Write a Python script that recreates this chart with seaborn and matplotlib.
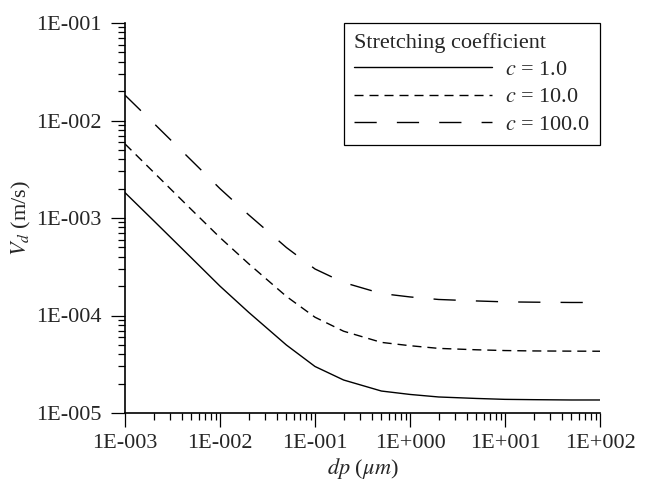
import numpy as np
import pandas as pd
import matplotlib
matplotlib.use("Agg")
import matplotlib.pyplot as plt
from matplotlib.ticker import FuncFormatter, LogLocator, NullFormatter
from matplotlib.lines import Line2D
import seaborn as sns

# ---- data ----
dp = [0.001, 0.002, 0.005, 0.01, 0.02, 0.05, 0.1, 0.2, 0.5, 1, 2, 5, 10, 20, 50, 100]
vd_c1 = [1.82e-3, 9.4e-4, 3.9e-4, 2.0e-4, 1.08e-4, 4.98e-5, 3.0e-5, 2.18e-5, 1.68e-5,
         1.55e-5, 1.46e-5, 1.41e-5, 1.38e-5, 1.37e-5, 1.36e-5, 1.36e-5]
vd_c10 = [5.75e-3, 2.95e-3, 1.22e-3, 6.3e-4, 3.4e-4, 1.57e-4, 9.6e-5, 6.9e-5, 5.3e-5,
          4.9e-5, 4.6e-5, 4.45e-5, 4.37e-5, 4.33e-5, 4.31e-5, 4.3e-5]
vd_c100 = [1.82e-2, 9.4e-3, 3.9e-3, 2.0e-3, 1.08e-3, 4.98e-4, 3.0e-4, 2.18e-4, 1.68e-4,
           1.55e-4, 1.46e-4, 1.41e-4, 1.38e-4, 1.37e-4, 1.36e-4, 1.36e-4]
series_labels = [r"$c$ = 1.0", r"$c$ = 10.0", r"$c$ = 100.0"]
legend_title = "Stretching coefficient"
xlabel = r"$dp$ ($\mu m$)"
ylabel = r"$V_d$ (m/s)"

df = pd.concat([
    pd.DataFrame({"dp": dp, "Vd": v, "c": lab})
    for v, lab in zip([vd_c1, vd_c10, vd_c100], series_labels)
])

sns.set_style("ticks")
plt.rcParams["font.family"] = ["Liberation Serif", "DejaVu Serif"]
plt.rcParams["mathtext.fontset"] = "stix"
plt.rcParams["font.size"] = 16

FS = 16
SHORT = (6.5, 4.3)
LONG = (16, 14.5)

fig = plt.figure(figsize=(6.49, 4.82), dpi=100)
ax = fig.add_axes([125 / 649, 1 - 413 / 482, 475 / 649, 390 / 482])

dash_map = {series_labels[0]: "", series_labels[1]: SHORT, series_labels[2]: LONG}
sns.lineplot(data=df, x="dp", y="Vd", style="c", dashes=dash_map, color="black",
             linewidth=1.0, ax=ax, legend=False, sort=False)

ax.set_xscale("log")
ax.set_yscale("log")
ax.set_xlim(1e-3, 1e2)
ax.set_ylim(1e-5, 1e-1)

def fmt(v, pos):
    e = int(round(np.log10(v)))
    return "1E{:+04d}".format(e)

for axis in (ax.xaxis, ax.yaxis):
    axis.set_major_locator(LogLocator(base=10, numticks=20))
    axis.set_minor_locator(LogLocator(base=10, subs=np.arange(2, 10), numticks=20))
    axis.set_major_formatter(FuncFormatter(fmt))
    axis.set_minor_formatter(NullFormatter())

ax.tick_params(which="major", direction="out", length=10, width=0.9, labelsize=FS, color="black")
ax.tick_params(which="minor", direction="out", length=5, width=0.9, color="black")
ax.tick_params(axis="y", which="major", pad=7)
ax.tick_params(axis="x", which="major", pad=5)

for s in ("top", "right"):
    ax.spines[s].set_visible(False)
for s in ("left", "bottom"):
    ax.spines[s].set_linewidth(1.2)
    ax.spines[s].set_color("black")

ax.set_xlabel(xlabel, fontsize=FS)
ax.set_ylabel(ylabel, fontsize=FS)
ax.xaxis.set_label_coords(0.5, -(456 - 413) / 390)
ax.yaxis.set_label_coords(-(125 - 33) / 475, 0.5)

handles = [Line2D([], [], color="black", lw=1.0, linestyle="-"),
           Line2D([], [], color="black", lw=1.0, dashes=SHORT),
           Line2D([], [], color="black", lw=1.0, dashes=LONG)]
leg = ax.legend(handles, series_labels, title=legend_title, loc="upper right",
                bbox_to_anchor=(600 / 649, 1 - 23 / 482), bbox_transform=fig.transFigure,
                borderaxespad=0, fancybox=False, framealpha=1, edgecolor="black",
                fontsize=FS, title_fontsize=FS, handlelength=6.2, handletextpad=0.6,
                labelspacing=0.3, borderpad=0.45, alignment="left")
leg.get_frame().set_linewidth(0.9)

fig.savefig("out.png", dpi=100)
